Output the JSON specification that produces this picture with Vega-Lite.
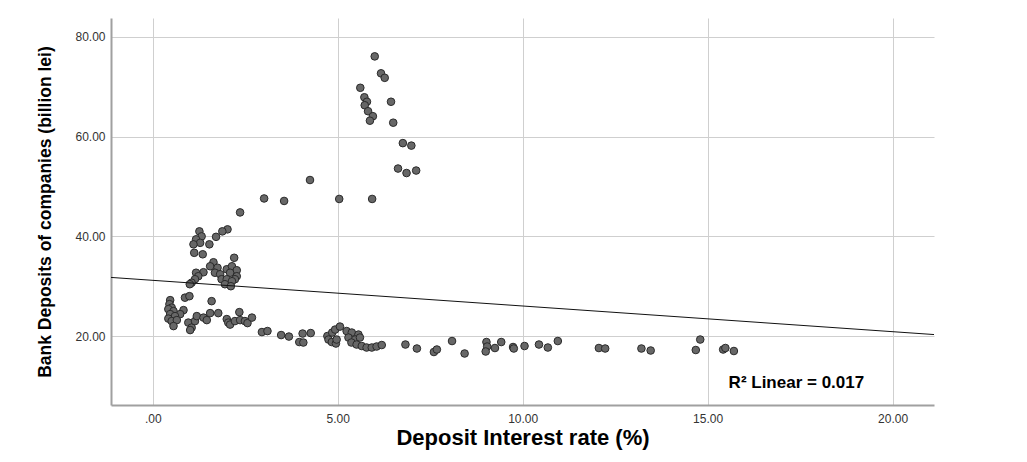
{
  "$schema": "https://vega.github.io/schema/vega-lite/v6.json",
  "autosize": {"type": "none"},
  "padding": {"left": 111, "top": 18, "right": 93, "bottom": 57},
  "width": 823,
  "height": 387,
  "background": "white",
  "config": {
    "view": {"stroke": null},
    "axis": {
      "domainColor": "#a0a0a0",
      "domainWidth": 2,
      "ticks": false,
      "gridColor": "#cfcfcf",
      "gridWidth": 1,
      "labelColor": "#333333",
      "labelFont": "Liberation Sans",
      "labelFontSize": 12,
      "titleColor": "#000000",
      "titleFontWeight": "bold"
    }
  },
  "datasets": {
    "pts": [
      {"rate": 6.00, "dep": 76.1}, {"rate": 6.17, "dep": 72.7}, {"rate": 6.27, "dep": 71.8}, {"rate": 5.61, "dep": 69.8},
      {"rate": 5.72, "dep": 67.9}, {"rate": 5.79, "dep": 67.0}, {"rate": 5.73, "dep": 66.3}, {"rate": 6.44, "dep": 67.0},
      {"rate": 5.82, "dep": 65.1}, {"rate": 5.95, "dep": 64.1}, {"rate": 5.87, "dep": 63.2}, {"rate": 6.50, "dep": 62.8},
      {"rate": 6.76, "dep": 58.7}, {"rate": 6.99, "dep": 58.2}, {"rate": 6.63, "dep": 53.6}, {"rate": 6.86, "dep": 52.7},
      {"rate": 7.12, "dep": 53.2}, {"rate": 4.25, "dep": 51.3}, {"rate": 3.01, "dep": 47.6}, {"rate": 3.55, "dep": 47.1},
      {"rate": 5.04, "dep": 47.5}, {"rate": 5.93, "dep": 47.5}, {"rate": 2.36, "dep": 44.8},
      {"rate": 1.26, "dep": 41.0}, {"rate": 2.02, "dep": 41.4}, {"rate": 1.88, "dep": 41.0}, {"rate": 1.71, "dep": 39.9},
      {"rate": 1.32, "dep": 40.0}, {"rate": 1.17, "dep": 39.4}, {"rate": 1.28, "dep": 38.7}, {"rate": 1.53, "dep": 38.4},
      {"rate": 1.10, "dep": 38.4}, {"rate": 1.12, "dep": 36.7}, {"rate": 1.35, "dep": 36.4}, {"rate": 2.20, "dep": 35.7},
      {"rate": 1.64, "dep": 34.8}, {"rate": 1.55, "dep": 34.0}, {"rate": 1.75, "dep": 33.7}, {"rate": 1.68, "dep": 32.7},
      {"rate": 2.00, "dep": 33.4}, {"rate": 2.14, "dep": 34.0}, {"rate": 2.27, "dep": 33.2}, {"rate": 2.09, "dep": 32.7},
      {"rate": 1.82, "dep": 32.4}, {"rate": 2.27, "dep": 32.0}, {"rate": 1.37, "dep": 32.8}, {"rate": 1.17, "dep": 32.7},
      {"rate": 1.23, "dep": 32.0}, {"rate": 1.14, "dep": 31.4}, {"rate": 1.86, "dep": 31.4}, {"rate": 2.00, "dep": 31.4},
      {"rate": 2.22, "dep": 31.4}, {"rate": 2.14, "dep": 31.0}, {"rate": 1.95, "dep": 30.4}, {"rate": 2.11, "dep": 30.0},
      {"rate": 1.05, "dep": 30.7}, {"rate": 1.00, "dep": 30.4},
      {"rate": 0.47, "dep": 27.2}, {"rate": 0.87, "dep": 27.7}, {"rate": 0.99, "dep": 28.0}, {"rate": 1.59, "dep": 27.0},
      {"rate": 0.45, "dep": 26.4}, {"rate": 0.51, "dep": 25.7}, {"rate": 0.42, "dep": 25.4}, {"rate": 0.56, "dep": 25.0},
      {"rate": 0.83, "dep": 25.2}, {"rate": 0.74, "dep": 24.4}, {"rate": 0.47, "dep": 24.4}, {"rate": 0.60, "dep": 24.0},
      {"rate": 0.42, "dep": 23.5}, {"rate": 0.51, "dep": 23.0}, {"rate": 0.65, "dep": 23.2}, {"rate": 0.56, "dep": 22.0},
      {"rate": 0.96, "dep": 22.7}, {"rate": 1.05, "dep": 21.7}, {"rate": 1.01, "dep": 21.2}, {"rate": 1.14, "dep": 23.0},
      {"rate": 1.19, "dep": 24.0}, {"rate": 1.37, "dep": 23.7}, {"rate": 1.46, "dep": 23.2}, {"rate": 1.55, "dep": 24.6},
      {"rate": 1.77, "dep": 24.6}, {"rate": 2.00, "dep": 23.4}, {"rate": 2.04, "dep": 22.7}, {"rate": 2.09, "dep": 22.3},
      {"rate": 2.22, "dep": 23.0}, {"rate": 2.34, "dep": 24.8}, {"rate": 2.36, "dep": 23.2}, {"rate": 2.49, "dep": 23.0},
      {"rate": 2.56, "dep": 22.6}, {"rate": 2.68, "dep": 23.7}, {"rate": 2.95, "dep": 20.8}, {"rate": 3.10, "dep": 21.0},
      {"rate": 3.47, "dep": 20.2}, {"rate": 3.68, "dep": 19.9}, {"rate": 3.96, "dep": 18.8}, {"rate": 4.07, "dep": 18.7},
      {"rate": 4.05, "dep": 20.5}, {"rate": 4.27, "dep": 20.6}, {"rate": 4.72, "dep": 20.0},
      {"rate": 4.85, "dep": 20.7}, {"rate": 4.93, "dep": 21.3}, {"rate": 5.06, "dep": 21.9}, {"rate": 4.75, "dep": 19.3},
      {"rate": 4.84, "dep": 18.8}, {"rate": 4.95, "dep": 18.5}, {"rate": 4.97, "dep": 19.3}, {"rate": 5.24, "dep": 21.0},
      {"rate": 5.38, "dep": 20.7}, {"rate": 5.56, "dep": 20.3}, {"rate": 5.29, "dep": 19.7}, {"rate": 5.47, "dep": 19.3},
      {"rate": 5.60, "dep": 19.7}, {"rate": 5.37, "dep": 18.7}, {"rate": 5.51, "dep": 18.3}, {"rate": 5.65, "dep": 18.0},
      {"rate": 5.78, "dep": 17.7}, {"rate": 5.92, "dep": 17.7}, {"rate": 6.05, "dep": 17.9}, {"rate": 6.19, "dep": 18.2},
      {"rate": 6.83, "dep": 18.3}, {"rate": 7.14, "dep": 17.5}, {"rate": 7.60, "dep": 16.8}, {"rate": 7.68, "dep": 17.3},
      {"rate": 8.09, "dep": 19.0}, {"rate": 8.43, "dep": 16.5}, {"rate": 9.02, "dep": 18.8}, {"rate": 9.04, "dep": 17.9},
      {"rate": 9.00, "dep": 16.9}, {"rate": 9.25, "dep": 17.6}, {"rate": 9.42, "dep": 18.8}, {"rate": 9.74, "dep": 17.8},
      {"rate": 9.76, "dep": 17.5}, {"rate": 10.05, "dep": 18.0}, {"rate": 10.44, "dep": 18.3}, {"rate": 10.68, "dep": 17.7},
      {"rate": 10.95, "dep": 19.0}, {"rate": 12.06, "dep": 17.6}, {"rate": 12.23, "dep": 17.5}, {"rate": 13.21, "dep": 17.5},
      {"rate": 13.46, "dep": 17.1}, {"rate": 14.68, "dep": 17.2}, {"rate": 14.80, "dep": 19.3}, {"rate": 15.42, "dep": 17.3},
      {"rate": 15.48, "dep": 17.6}, {"rate": 15.71, "dep": 17.0}
    ],
    "fit": [
      {"rate": -1.13, "dep": 31.76},
      {"rate": 21.12, "dep": 20.30}
    ],
    "note": [
      {"rate": 17.4, "dep": 10.5, "label": "R² Linear = 0.017"}
    ]
  },
  "encoding": {
    "x": {
      "field": "rate", "type": "quantitative",
      "scale": {"domain": [-1.13, 21.12], "nice": false, "zero": false},
      "axis": {
        "title": "Deposit Interest rate (%)",
        "values": [0, 5, 10, 15, 20],
        "labelExpr": "datum.value == 0 ? '.00' : format(datum.value, '.2f')",
        "labelPadding": 8,
        "titleFont": "Liberation Sans",
        "titleFontSize": 22,
        "titlePadding": 3
      }
    },
    "y": {
      "field": "dep", "type": "quantitative",
      "scale": {"domain": [6.17, 83.8], "nice": false, "zero": false},
      "axis": {
        "title": "Bank Deposits of companies (billion lei)",
        "values": [20, 40, 60, 80],
        "format": ".2f",
        "labelPadding": 6,
        "titleFont": "Liberation Sans",
        "titleFontSize": 17.5,
        "titleX": -66,
        "titleBaseline": "middle"
      }
    }
  },
  "layer": [
    {
      "data": {"name": "pts"},
      "mark": {"type": "point", "filled": true, "fill": "#676767", "stroke": "#2a2a2a", "strokeWidth": 1, "size": 58, "opacity": 1}
    },
    {
      "data": {"name": "fit"},
      "mark": {"type": "line", "color": "#111111", "strokeWidth": 1}
    },
    {
      "data": {"name": "note"},
      "mark": {"type": "text", "font": "Liberation Sans", "fontWeight": "bold", "fontSize": 17, "color": "#000000", "align": "center", "baseline": "middle"},
      "encoding": {"text": {"field": "label"}}
    }
  ]
}
